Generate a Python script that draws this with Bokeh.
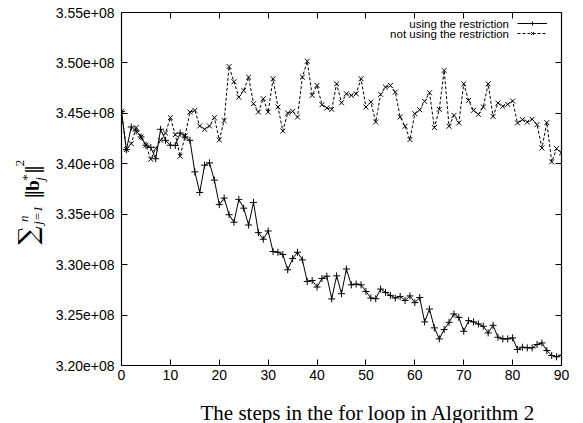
import math
from bokeh.plotting import figure
from bokeh.layouts import row, column
from bokeh.models import (Range1d, FixedTicker, LinearAxis, Legend, LegendItem,
                          Label, CustomJSTickFormatter)
from bokeh.core.properties import value
from bokeh.embed import file_html
from bokeh.resources import INLINE

SCALE = 1e8
steps = list(range(91))

with_restriction = [
    3.4520, 3.4140, 3.4365, 3.4325, 3.4266, 3.4184, 3.4161, 3.4050, 3.4342, 3.4233,
    3.4184, 3.4181, 3.4305, 3.4266, 3.4233, 3.3920, 3.3716, 3.3986, 3.4009, 3.3838,
    3.3595, 3.3660, 3.3495, 3.3420, 3.3647, 3.3560, 3.3393, 3.3617, 3.3317, 3.3252,
    3.3334, 3.3130, 3.3123, 3.3100, 3.2949, 3.3060, 3.3123, 3.3047, 3.2833, 3.2843,
    3.2778, 3.2863, 3.2886, 3.2660, 3.2889, 3.2712, 3.2957, 3.2800, 3.2807, 3.2800,
    3.2734, 3.2669, 3.2662, 3.2758, 3.2725, 3.2695, 3.2669, 3.2685, 3.2645, 3.2690,
    3.2623, 3.2674, 3.2432, 3.2560, 3.2373, 3.2264, 3.2356, 3.2428, 3.2511, 3.2477,
    3.2339, 3.2445, 3.2432, 3.2412, 3.2389, 3.2323, 3.2399, 3.2280, 3.2264, 3.2264,
    3.2274, 3.2158, 3.2181, 3.2175, 3.2175, 3.2208, 3.2224, 3.2148, 3.2099, 3.2086,
    3.2102,
]

without_restriction = [
    3.4520, 3.4141, 3.4200, 3.4359, 3.4266, 3.4184, 3.4045, 3.4151, 3.4233, 3.4305,
    3.4457, 3.4289, 3.4075, 3.4276, 3.4513, 3.4530, 3.4375, 3.4342, 3.4375, 3.4457,
    3.4236, 3.4428, 3.4964, 3.4813, 3.4661, 3.4727, 3.4859, 3.4596, 3.4513, 3.4645,
    3.4513, 3.4843, 3.4563, 3.4325, 3.4503, 3.4520, 3.4464, 3.4859, 3.5017, 3.4678,
    3.4777, 3.4586, 3.4553, 3.4540, 3.4793, 3.4605, 3.4694, 3.4678, 3.4694, 3.4843,
    3.4563, 3.4612, 3.4414, 3.4688, 3.4760, 3.4777, 3.4711, 3.4464, 3.4372, 3.4240,
    3.4497, 3.4536, 3.4619, 3.4705, 3.4359, 3.4540, 3.4925, 3.4372, 3.4480, 3.4405,
    3.4793, 3.4628, 3.4530, 3.4490, 3.4563, 3.4793, 3.4470, 3.4602, 3.4569, 3.4589,
    3.4622, 3.4405, 3.4438, 3.4414, 3.4441, 3.4388, 3.4157, 3.4408, 3.4019, 3.4151,
    3.4108,
]

x_ticks = [0, 10, 20, 30, 40, 50, 60, 70, 80, 90]
y_ticks = [3.20, 3.25, 3.30, 3.35, 3.40, 3.45, 3.50, 3.55]
y_tick_labels = ["3.20e+08", "3.25e+08", "3.30e+08", "3.35e+08",
                 "3.40e+08", "3.45e+08", "3.50e+08", "3.55e+08"]
legend_labels = ["using the restriction", "not using the restriction"]
x_title = "The steps in the for loop in Algorithm 2"
# y title: sum_{j=1}^{n} ||b*_j||^2, as pieces (text, font, size, style)
y_title_parts = [
    ("\u2211", "DejaVu Serif", 26, "normal"),
    ("n", "Liberation Serif", 13, "italic"),
    ("j=1", "Liberation Serif", 13, "italic"),
    ("\u2016", "DejaVu Serif", 19, "normal"),
    ("b", "Liberation Serif", 19, "bold"),
    ("*", "Liberation Serif", 13, "normal"),
    ("j", "Liberation Serif", 13, "italic"),
    ("\u2016", "DejaVu Serif", 19, "normal"),
    ("2", "Liberation Serif", 13, "normal"),
]

W, H = 583, 423
YL_W = 52            # left strip holding the y title
XT_H = 37            # bottom strip holding the x title
PH = H - XT_H        # height of the plot row
L, R, T, B = 121 - YL_W, 22, 12, 21
FH = PH - T - B

y_with = [v * SCALE for v in with_restriction]
y_without = [v * SCALE for v in without_restriction]
y_tick_vals = [round(v * SCALE) for v in y_ticks]

p = figure(width=W - YL_W, height=PH, output_backend="svg", toolbar_location=None,
           x_range=Range1d(0, 90), y_range=Range1d(y_tick_vals[0], y_tick_vals[-1]),
           min_border_left=L, min_border_right=R, min_border_top=T, min_border_bottom=B,
           x_axis_type=None, y_axis_type=None)
p.outline_line_color = None
p.background_fill_color = "white"
p.border_fill_color = "white"

TICK_FONT = "Liberation Sans"

def style_axis(ax, labels=True):
    ax.axis_line_color = "black"
    ax.axis_line_width = 1.2
    ax.major_tick_line_color = "black"
    ax.major_tick_line_width = 1
    ax.major_tick_in = 6
    ax.major_tick_out = 0
    ax.minor_tick_line_color = None
    ax.major_label_text_font = TICK_FONT
    ax.major_label_text_font_size = "14px"
    ax.major_label_text_color = "black"
    if not labels:
        ax.formatter = CustomJSTickFormatter(code="return ''")
        ax.major_label_standoff = 0

xb = LinearAxis(ticker=FixedTicker(ticks=x_ticks))
style_axis(xb)
xb.major_label_standoff = 4
p.add_layout(xb, "below")

yl = LinearAxis(ticker=FixedTicker(ticks=y_tick_vals))
style_axis(yl)
yl.major_label_overrides = {v: s for v, s in zip(y_tick_vals, y_tick_labels)}
yl.major_label_standoff = 7
p.add_layout(yl, "left")

xt = LinearAxis(ticker=FixedTicker(ticks=x_ticks))
style_axis(xt, labels=False)
p.add_layout(xt, "above")

yr = LinearAxis(ticker=FixedTicker(ticks=y_tick_vals))
style_axis(yr, labels=False)
p.add_layout(yr, "right")

l1 = p.line(steps, y_with, line_color="black", line_width=1)
s1 = p.scatter(steps, y_with, marker="cross", size=7, line_color="black", line_width=1)
l2 = p.line(steps, y_without, line_color="black", line_width=1, line_dash="3 2")
s2 = p.scatter(steps, y_without, marker="x", size=7, line_color="black", line_width=1)

# legend (samples at right, texts right-aligned to their left, as in the reference)
leg = Legend(items=[LegendItem(label=value(" "), renderers=[l1, s1]),
                    LegendItem(label=value("  "), renderers=[l2, s2])],
             location=(396, FH - 26), orientation="vertical",
             glyph_width=30, glyph_height=10, label_height=10, label_width=1,
             label_standoff=0, padding=0, margin=0, spacing=0,
             label_text_font_size="6px",
             border_line_color=None, background_fill_alpha=0)
p.add_layout(leg)

for i, txt in enumerate(legend_labels):
    p.add_layout(Label(x=387.5, y=FH - 11.3 - 10.4 * i, x_units="screen", y_units="screen",
                       text=txt, text_align="right", text_baseline="middle",
                       text_font=TICK_FONT, text_font_size="11.5px", text_color="black"))

# ---- y title strip (page pixel coordinates: x from left, y from top) ----
q = figure(width=YL_W, height=PH, output_backend="svg", toolbar_location=None,
           x_range=Range1d(0, YL_W), y_range=Range1d(0, PH),
           min_border=0, x_axis_type=None, y_axis_type=None)
q.outline_line_color = None
q.xgrid.visible = False
q.ygrid.visible = False
q.border_fill_color = "white"

# anchor = top edge of the (rotated) text box, and its starting end
piece_pos = [(12.6, 254), (15.4, 229), (29.4, 232), (20.3, 204), (21.1, 195),
             (18.4, 184), (31.4, 184), (20.3, 177), (15.4, 168)]
for (txt, font, size, style), (sx, sy) in zip(y_title_parts, piece_pos):
    q.text(x=[sx], y=[PH - sy], text=[txt], angle=math.pi / 2,
           text_font=value(font), text_font_size=value(f"{size}px"),
           text_font_style=style, text_align="left", text_baseline="top",
           text_color="black")

# ---- x title strip (page pixel coordinates, y from the page bottom) ----
s = figure(width=W, height=XT_H, output_backend="svg", toolbar_location=None,
           x_range=Range1d(0, W), y_range=Range1d(0, XT_H),
           min_border=0, x_axis_type=None, y_axis_type=None)
s.outline_line_color = None
s.xgrid.visible = False
s.ygrid.visible = False
s.border_fill_color = "white"
s.text(x=[200], y=[H - 400], text=[x_title], text_font=value("Liberation Serif"),
       text_font_size=value("21px"), text_align="left", text_baseline="top",
       text_color="black")

layout = column(row(q, p, spacing=0), s, spacing=0)
open("out.html", "w").write(file_html(layout, INLINE))
